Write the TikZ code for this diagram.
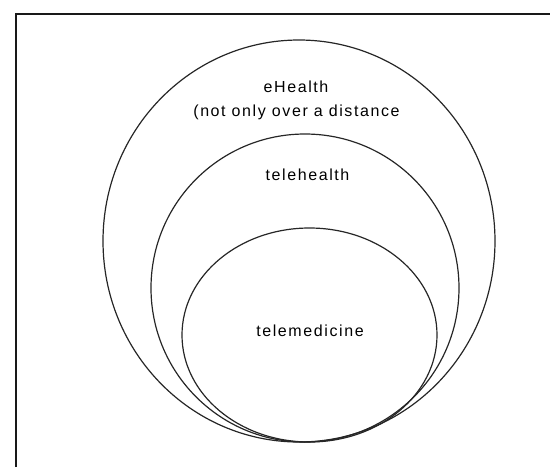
\documentclass[tikz,border=0pt]{standalone}
\usepackage{fontspec}
\newfontfamily\labfont[LetterSpace=10]{Liberation Sans}
\usetikzlibrary{shapes.geometric}
\begin{document}
\begin{tikzpicture}[x=1pt,y=-1pt,
  ring/.style={draw=black!85, line width=1.2pt, ellipse, inner sep=0pt, fill=none},
  lab/.style={font=\labfont\fontsize{16}{19}\selectfont, text=black, inner sep=0pt, anchor=center},
  frame/.style={draw=black!90, line width=2pt}]
\useasboundingbox (0,0) rectangle (550,467);
\coordinate (fb) at (15.5,467);
\coordinate (fc) at (15.5,13.5);
\coordinate (fr) at (550,13.5);
\draw[frame] (fb) -- (fc) -- (fr);
\node[ring, minimum width=392pt, minimum height=402pt] (outer) at (299,241) {};
\node[ring, minimum width=308pt, minimum height=308pt] (middle) at (305,288) {};
\node[ring, minimum width=255pt, minimum height=214pt] (inner) at (309.5,335) {};
\node[lab] (eh) at (296,86.5) {eHealth};
\node[lab] (ehsub) at (296.5,112.5) {(not only over a distance};
\node[lab] (th) at (307.5,174.5) {telehealth};
\node[lab] (tm) at (310,331) {telemedicine};
\end{tikzpicture}
\end{document}
